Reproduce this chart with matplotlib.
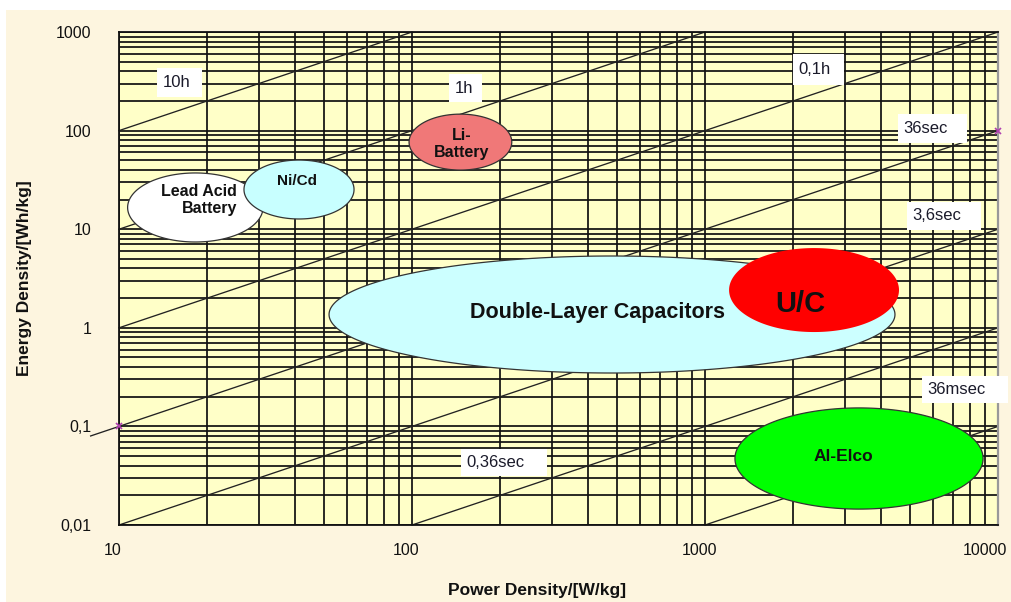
import numpy as np
import matplotlib
matplotlib.use("Agg")
import matplotlib.pyplot as plt
import matplotlib.transforms as mtransforms
from matplotlib.patches import Rectangle
from matplotlib.ticker import FixedLocator, FixedFormatter, LogLocator, NullFormatter

plt.rcParams['font.family'] = ['Liberation Sans', 'DejaVu Sans']

# Axis ticks
x_ticks = [10, 100, 1000, 10000]
x_tick_labels = ['10', '100', '1000', '10000']
y_ticks = [0.01, 0.1, 1, 10, 100, 1000]
y_tick_labels = ['0,01', '0,1', '1', '10', '100', '1000']

# Storage technologies: power range [W/kg] and energy range [Wh/kg]
tech_names = ['Lead Acid\nBattery', 'Ni/Cd', 'Li-\nBattery',
              'Double-Layer Capacitors', 'U/C', 'Al-Elco']
power_low = [10.7, 26.7, 97.7, 52.1, 1208, 1265]
power_high = [31.0, 63.4, 219, 4449, 4592, 8892]
energy_low = [7.42, 12.7, 39.8, 0.348, 0.906, 0.0145]
energy_high = [37.2, 50.3, 147, 5.35, 6.44, 0.154]
# where each name is written
name_power = [25.3, 40.5, 148, 428, 2110, 2958]
name_energy = [19.8, 30.8, 73.1, 1.445, 1.74, 0.050]

# Lines of constant discharge time (hours)
time_labels = ['10h', '1h', '0,1h', '36sec', '3,6sec', '0,36sec', '36msec']
time_hours = [10, 1, 0.1, 0.01, 0.001, 0.0001, 0.00001]
# white label boxes for the time lines
box_p_left = [13.48, 133.7, 1997, 4557, 4891, 147, 5503]
box_p_right = [19.20, 173.4, 2982, 7839, 8750, 289, 10818]
box_e_low = [219, 195, 290, 74.8, 9.81, 0.0314, 0.173]
box_e_high = [431, 375, 598, 147, 18.9, 0.059, 0.324]

# styling
face_colors = ['white', '#C8FFFF', '#F07878', '#CCFFFF', '#FF0000', '#00FF00']
edge_colors = ['#333333', '#333333', '#333333', '#333333', 'none', '#333333']
name_sizes = [11.5, 11, 11.5, 15.5, 21, 12.5]
name_align = ['right', 'center', 'center', 'center', 'center', 'center']

fig = plt.figure(figsize=(10.12, 6.02), dpi=100, facecolor='white')
fig.patches.append(Rectangle((0.0059, 0), 0.9941, 0.9834, transform=fig.transFigure,
                             facecolor='#FDF5DF', edgecolor='none', zorder=-10))

ax = fig.add_axes([0.1176, 0.1279, 0.8686, 0.8189])
ax.set_facecolor('#FFFFC8')
ax.set_xscale('log')
ax.set_yscale('log')
ax.set_xlim(10, 10000)
ax.set_ylim(0.01, 1000)

ax.xaxis.set_major_locator(FixedLocator(x_ticks))
ax.xaxis.set_major_formatter(FixedFormatter(x_tick_labels))
ax.yaxis.set_major_locator(FixedLocator(y_ticks))
ax.yaxis.set_major_formatter(FixedFormatter(y_tick_labels))
for axis in (ax.xaxis, ax.yaxis):
    axis.set_minor_locator(LogLocator(base=10, subs=np.arange(2, 10)))
    axis.set_minor_formatter(NullFormatter())

ax.tick_params(which='both', length=0)
ax.tick_params(axis='y', pad=20, labelsize=11.5, labelcolor='#111111')
ax.tick_params(axis='x', pad=13, labelsize=11.5, labelcolor='#111111')

ax.set_axisbelow(True)
ax.grid(which='both', color='#101010', linewidth=1.25)

for side in ('left', 'bottom', 'top'):
    ax.spines[side].set_color('#111111')
    ax.spines[side].set_linewidth(1.3)
ax.spines['right'].set_color('#999999')
ax.spines['right'].set_linewidth(1.6)

# constant-time diagonals E = P * t
for lab, th in zip(time_labels, time_hours):
    p0 = max(10, 0.01 / th)
    p1 = min(10000, 1000 / th)
    if lab == '36sec':
        p0 = 8.0
    ax.plot([p0, p1], [p0 * th, p1 * th], color='#222222', lw=0.95,
            clip_on=False, zorder=2)

ax.plot([10, 10000], [0.1, 100], ls='none', marker='x', ms=5, mew=1.2,
        color='#B040B0', clip_on=False, zorder=6)

# label boxes
for lab, pl, pr, el, eh in zip(time_labels, box_p_left, box_p_right, box_e_low, box_e_high):
    ax.add_patch(Rectangle((pl, el), pr - pl, eh - el, facecolor='white',
                           edgecolor='none', zorder=3, clip_on=False))
    ax.annotate(lab, xy=(pl, np.sqrt(el * eh)), xytext=(4, 0), textcoords='offset points',
                ha='left', va='center', fontsize=12, color='#1a1a2a', zorder=5,
                annotation_clip=False)

# technology regions as ellipses in log-log space
t = np.linspace(0, 2 * np.pi, 300)
for i, name in enumerate(tech_names):
    lx0, lx1 = np.log10(power_low[i]), np.log10(power_high[i])
    ly0, ly1 = np.log10(energy_low[i]), np.log10(energy_high[i])
    cx, a = (lx0 + lx1) / 2, (lx1 - lx0) / 2
    cy, b = (ly0 + ly1) / 2, (ly1 - ly0) / 2
    ax.fill(10 ** (cx + a * np.cos(t)), 10 ** (cy + b * np.sin(t)),
            facecolor=face_colors[i], edgecolor=edge_colors[i], lw=0.9, zorder=4 + i * 0.01)
    ax.text(name_power[i], name_energy[i], name, ha=name_align[i], va='center',
            multialignment=name_align[i], fontsize=name_sizes[i], fontweight='bold',
            color='#111111', zorder=5, linespacing=1.15)

fig.text(537 / 1012, 1 - 590 / 602, 'Power Density/[W/kg]', ha='center', va='center',
         fontsize=12.5, fontweight='bold', color='#111111')
fig.text(25 / 1012, 1 - 278 / 602, 'Energy Density/[Wh/kg]', ha='center', va='center',
         rotation=90, fontsize=12.5, fontweight='bold', color='#111111')

# nudge the power tick labels slightly to the left; keep the last one inside the figure
label_shift_px = [-6, -6, -6, -13]
for lbl, dx in zip(ax.get_xticklabels(), label_shift_px):
    lbl.set_transform(lbl.get_transform()
                      + mtransforms.ScaledTranslation(dx / 100, 0, fig.dpi_scale_trans))

fig.savefig('out.png', dpi=100, facecolor=fig.get_facecolor())
